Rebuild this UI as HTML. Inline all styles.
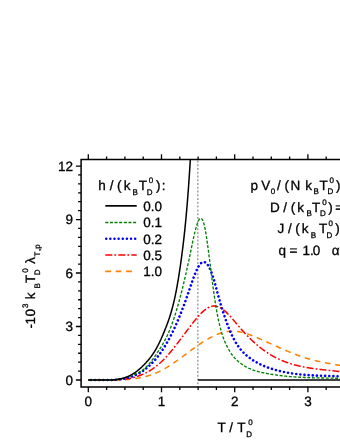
<!DOCTYPE html>
<html><head><meta charset="utf-8"><title>chart</title>
<style>html,body{margin:0;padding:0;background:#fff;}svg{display:block;will-change:transform;}text{font-family:"Liberation Sans", sans-serif;fill:#000;text-rendering:geometricPrecision;stroke:#000;stroke-width:0.3px;}</style></head><body>
<svg width="340" height="440" viewBox="0 0 340 440">
<rect width="340" height="440" fill="#fff"/>
<defs><clipPath id="plot"><rect x="81.10" y="159.50" width="300" height="227.50"/></clipPath></defs>
<line x1="197.85" y1="160.50" x2="197.85" y2="387.00" stroke="#808080" stroke-width="1.1" stroke-dasharray="2 1.76"/>
<g clip-path="url(#plot)" fill="none">
<path d="M198.00 380.10 L345 380.10" stroke="#000" stroke-width="1.5"/>
<path d="M88.30 380.00 L88.83 380.00 L89.36 380.00 L89.88 380.00 L90.41 380.00 L90.94 380.00 L91.47 380.00 L92.00 380.00 L92.52 380.00 L93.05 380.00 L93.58 380.00 L94.11 380.00 L94.64 380.00 L95.17 380.00 L95.69 380.00 L96.22 380.00 L96.75 380.00 L97.28 380.00 L97.81 380.00 L98.33 380.00 L98.86 380.00 L99.39 380.00 L99.92 380.00 L100.45 380.00 L100.97 380.00 L101.50 380.00 L102.03 380.00 L102.56 380.00 L103.09 380.00 L103.61 380.00 L104.14 380.00 L104.67 379.97 L105.20 379.98 L105.73 379.98 L106.26 379.99 L106.78 379.99 L107.31 380.00 L107.84 380.00 L108.37 380.00 L108.90 380.00 L109.42 380.00 L109.95 380.00 L110.48 380.00 L111.01 380.00 L111.54 380.00 L112.06 380.00 L112.59 380.00 L113.12 380.00 L113.65 380.00 L114.18 380.00 L114.70 380.00 L115.23 380.00 L115.76 380.00 L116.29 379.99 L116.82 379.99 L117.35 379.98 L117.87 379.97 L118.40 379.96 L118.93 379.94 L119.46 379.93 L119.99 379.91 L120.51 379.90 L121.04 379.88 L121.57 379.86 L122.10 379.84 L122.63 379.81 L123.15 379.79 L123.68 379.76 L124.21 379.73 L124.74 379.70 L125.27 379.67 L125.79 379.64 L126.32 379.60 L126.85 379.56 L127.38 379.52 L127.91 379.48 L128.44 379.44 L128.96 379.39 L129.49 379.34 L130.02 379.29 L130.55 379.24 L131.08 379.18 L131.60 379.13 L132.13 379.07 L132.66 379.00 L133.19 378.94 L133.72 378.87 L134.24 378.80 L134.77 378.73 L135.30 378.65 L135.83 378.57 L136.36 378.49 L136.88 378.40 L137.41 378.32 L137.94 378.23 L138.47 378.13 L139.00 378.04 L139.53 377.94 L140.05 377.83 L140.58 377.73 L141.11 377.62 L141.64 377.50 L142.17 377.39 L142.69 377.27 L143.22 377.15 L143.75 377.02 L144.28 376.89 L144.81 376.76 L145.33 376.62 L145.86 376.48 L146.39 376.33 L146.92 376.18 L147.45 376.03 L147.97 375.88 L148.50 375.72 L149.03 375.55 L149.56 375.38 L150.09 375.21 L150.62 375.03 L151.14 374.85 L151.67 374.67 L152.20 374.48 L152.73 374.29 L153.26 374.09 L153.78 373.89 L154.31 373.68 L154.84 373.47 L155.37 373.25 L155.90 373.03 L156.42 372.81 L156.95 372.58 L157.48 372.35 L158.01 372.11 L158.54 371.86 L159.06 371.62 L159.59 371.36 L160.12 371.10 L160.65 370.84 L161.18 370.57 L161.71 370.30 L162.23 370.02 L162.76 369.74 L163.29 369.45 L163.82 369.15 L164.35 368.86 L164.87 368.55 L165.40 368.25 L165.93 367.94 L166.46 367.62 L166.99 367.30 L167.51 366.98 L168.04 366.65 L168.57 366.32 L169.10 365.99 L169.63 365.65 L170.15 365.31 L170.68 364.96 L171.21 364.62 L171.74 364.27 L172.27 363.91 L172.80 363.56 L173.32 363.20 L173.85 362.84 L174.38 362.47 L174.91 362.10 L175.44 361.73 L175.96 361.36 L176.49 360.99 L177.02 360.61 L177.55 360.24 L178.08 359.86 L178.60 359.48 L179.13 359.09 L179.66 358.71 L180.19 358.32 L180.72 357.94 L181.24 357.55 L181.77 357.16 L182.30 356.77 L182.83 356.38 L183.36 355.99 L183.89 355.60 L184.41 355.21 L184.94 354.81 L185.47 354.42 L186.00 354.03 L186.53 353.63 L187.05 353.24 L187.58 352.85 L188.11 352.46 L188.64 352.06 L189.17 351.67 L189.69 351.28 L190.22 350.89 L190.75 350.50 L191.28 350.11 L191.81 349.72 L192.33 349.34 L192.86 348.95 L193.39 348.57 L193.92 348.19 L194.45 347.80 L194.98 347.42 L195.50 347.05 L196.03 346.67 L196.56 346.30 L197.09 345.93 L197.62 345.56 L198.14 345.19 L198.67 344.82 L199.20 344.46 L199.73 344.10 L200.26 343.75 L200.78 343.39 L201.31 343.04 L201.84 342.69 L202.37 342.35 L202.90 342.01 L203.42 341.67 L203.95 341.34 L204.48 341.00 L205.01 340.68 L205.54 340.35 L206.07 340.03 L206.59 339.72 L207.12 339.41 L207.65 339.10 L208.18 338.80 L208.71 338.50 L209.23 338.20 L209.76 337.91 L210.29 337.63 L210.82 337.35 L211.35 337.07 L211.87 336.80 L212.40 336.54 L212.93 336.28 L213.46 336.02 L213.99 335.77 L214.51 335.53 L215.04 335.29 L215.57 335.06 L216.10 334.83 L216.63 334.61 L217.16 334.40 L217.68 334.19 L218.21 333.98 L218.74 333.79 L219.27 333.59 L219.80 333.41 L220.32 333.23 L220.85 333.06 L221.38 332.90 L221.91 332.74 L222.44 332.59 L222.96 332.44 L223.49 332.31 L224.02 332.18 L224.55 332.05 L225.08 331.94 L225.61 331.83 L226.13 331.73 L226.66 331.64 L227.19 331.55 L227.72 331.48 L228.25 331.41 L228.77 331.35 L229.30 331.29 L229.83 331.25 L230.36 331.21 L230.89 331.18 L231.41 331.16 L231.94 331.15 L232.47 331.15 L233.00 331.16 L233.53 331.17 L234.05 331.19 L234.58 331.22 L235.11 331.26 L235.64 331.31 L236.17 331.36 L236.70 331.42 L237.22 331.49 L237.75 331.56 L238.28 331.64 L238.81 331.73 L239.34 331.82 L239.86 331.92 L240.39 332.03 L240.92 332.14 L241.45 332.26 L241.98 332.38 L242.50 332.51 L243.03 332.65 L243.56 332.79 L244.09 332.93 L244.62 333.09 L245.14 333.24 L245.67 333.40 L246.20 333.57 L246.73 333.74 L247.26 333.91 L247.79 334.09 L248.31 334.27 L248.84 334.45 L249.37 334.64 L249.90 334.83 L250.43 335.03 L250.95 335.23 L251.48 335.43 L252.01 335.63 L252.54 335.84 L253.07 336.05 L253.59 336.26 L254.12 336.48 L254.65 336.70 L255.18 336.91 L255.71 337.13 L256.23 337.36 L256.76 337.58 L257.29 337.81 L257.82 338.03 L258.35 338.26 L258.88 338.49 L259.40 338.72 L259.93 338.95 L260.46 339.18 L260.99 339.41 L261.52 339.64 L262.04 339.87 L262.57 340.11 L263.10 340.34 L263.63 340.58 L264.16 340.81 L264.68 341.05 L265.21 341.28 L265.74 341.52 L266.27 341.76 L266.80 342.00 L267.32 342.23 L267.85 342.47 L268.38 342.71 L268.91 342.95 L269.44 343.19 L269.97 343.43 L270.49 343.67 L271.02 343.91 L271.55 344.14 L272.08 344.38 L272.61 344.62 L273.13 344.86 L273.66 345.10 L274.19 345.34 L274.72 345.58 L275.25 345.82 L275.77 346.06 L276.30 346.29 L276.83 346.53 L277.36 346.77 L277.89 347.01 L278.41 347.24 L278.94 347.48 L279.47 347.72 L280.00 347.95 L280.53 348.18 L281.06 348.42 L281.58 348.65 L282.11 348.88 L282.64 349.12 L283.17 349.35 L283.70 349.58 L284.22 349.81 L284.75 350.04 L285.28 350.26 L285.81 350.49 L286.34 350.71 L286.86 350.94 L287.39 351.16 L287.92 351.39 L288.45 351.61 L288.98 351.83 L289.50 352.05 L290.03 352.26 L290.56 352.48 L291.09 352.69 L291.62 352.91 L292.15 353.12 L292.67 353.33 L293.20 353.54 L293.73 353.75 L294.26 353.96 L294.79 354.16 L295.31 354.36 L295.84 354.56 L296.37 354.76 L296.90 354.96 L297.43 355.16 L297.95 355.35 L298.48 355.55 L299.01 355.74 L299.54 355.93 L300.07 356.11 L300.59 356.30 L301.12 356.48 L301.65 356.66 L302.18 356.84 L302.71 357.02 L303.24 357.19 L303.76 357.36 L304.29 357.53 L304.82 357.70 L305.35 357.87 L305.88 358.03 L306.40 358.19 L306.93 358.35 L307.46 358.51 L307.99 358.67 L308.52 358.82 L309.04 358.97 L309.57 359.12 L310.10 359.27 L310.63 359.41 L311.16 359.56 L311.68 359.70 L312.21 359.84 L312.74 359.98 L313.27 360.11 L313.80 360.25 L314.33 360.38 L314.85 360.51 L315.38 360.64 L315.91 360.77 L316.44 360.90 L316.97 361.02 L317.49 361.15 L318.02 361.27 L318.55 361.39 L319.08 361.51 L319.61 361.63 L320.13 361.74 L320.66 361.86 L321.19 361.97 L321.72 362.08 L322.25 362.20 L322.77 362.31 L323.30 362.41 L323.83 362.52 L324.36 362.63 L324.89 362.73 L325.42 362.84 L325.94 362.94 L326.47 363.04 L327.00 363.14 L327.53 363.24 L328.06 363.34 L328.58 363.44 L329.11 363.53 L329.64 363.63 L330.17 363.72 L330.70 363.82 L331.22 363.91 L331.75 364.00 L332.28 364.09 L332.81 364.19 L333.34 364.28 L333.86 364.37 L334.39 364.45 L334.92 364.54 L335.45 364.63 L335.98 364.72 L336.51 364.80 L337.03 364.89 L337.56 364.97 L338.09 365.06 L338.62 365.14 L339.15 365.23 L339.67 365.31 L340.20 365.39 L340.73 365.48 L341.26 365.56 L341.79 365.64 L342.31 365.72 L342.84 365.80 L343.37 365.88 L343.90 365.97 L344.43 366.05 L344.95 366.13 L345.48 366.21 L346.01 366.29 L346.54 366.37 L347.07 366.45 L347.60 366.53 L348.12 366.61 L348.65 366.69 L349.18 366.77 L349.71 366.85 L350.24 366.94 L350.76 367.02 L351.29 367.10 L351.82 367.18" stroke="#ff8000" stroke-width="1.5" stroke-dasharray="5.7 4.7" stroke-dashoffset="5.01"/>
<path d="M88.30 380.00 L88.83 380.00 L89.36 380.00 L89.88 380.00 L90.41 380.00 L90.94 380.00 L91.47 380.00 L92.00 380.00 L92.52 380.00 L93.05 380.00 L93.58 380.00 L94.11 380.00 L94.64 380.00 L95.17 380.00 L95.69 380.00 L96.22 380.00 L96.75 380.00 L97.28 380.00 L97.81 380.00 L98.33 380.00 L98.86 380.00 L99.39 380.00 L99.92 380.00 L100.45 380.00 L100.97 380.00 L101.50 380.00 L102.03 380.00 L102.56 380.00 L103.09 380.00 L103.61 380.00 L104.14 380.00 L104.67 379.97 L105.20 379.98 L105.73 379.98 L106.26 379.98 L106.78 379.99 L107.31 379.99 L107.84 379.99 L108.37 379.99 L108.90 379.99 L109.42 379.99 L109.95 379.99 L110.48 379.99 L111.01 379.98 L111.54 379.98 L112.06 379.97 L112.59 379.96 L113.12 379.95 L113.65 379.94 L114.18 379.92 L114.70 379.91 L115.23 379.89 L115.76 379.87 L116.29 379.85 L116.82 379.82 L117.35 379.80 L117.87 379.77 L118.40 379.74 L118.93 379.71 L119.46 379.67 L119.99 379.63 L120.51 379.59 L121.04 379.55 L121.57 379.50 L122.10 379.45 L122.63 379.40 L123.15 379.34 L123.68 379.28 L124.21 379.22 L124.74 379.15 L125.27 379.09 L125.79 379.01 L126.32 378.94 L126.85 378.86 L127.38 378.77 L127.91 378.69 L128.44 378.60 L128.96 378.50 L129.49 378.40 L130.02 378.30 L130.55 378.19 L131.08 378.08 L131.60 377.96 L132.13 377.84 L132.66 377.72 L133.19 377.59 L133.72 377.45 L134.24 377.31 L134.77 377.17 L135.30 377.02 L135.83 376.86 L136.36 376.70 L136.88 376.54 L137.41 376.37 L137.94 376.20 L138.47 376.02 L139.00 375.83 L139.53 375.64 L140.05 375.44 L140.58 375.24 L141.11 375.03 L141.64 374.81 L142.17 374.59 L142.69 374.37 L143.22 374.13 L143.75 373.90 L144.28 373.65 L144.81 373.40 L145.33 373.14 L145.86 372.88 L146.39 372.60 L146.92 372.33 L147.45 372.04 L147.97 371.75 L148.50 371.45 L149.03 371.15 L149.56 370.83 L150.09 370.51 L150.62 370.19 L151.14 369.85 L151.67 369.51 L152.20 369.16 L152.73 368.81 L153.26 368.44 L153.78 368.07 L154.31 367.69 L154.84 367.30 L155.37 366.91 L155.90 366.50 L156.42 366.09 L156.95 365.67 L157.48 365.24 L158.01 364.80 L158.54 364.36 L159.06 363.91 L159.59 363.44 L160.12 362.97 L160.65 362.49 L161.18 362.00 L161.71 361.51 L162.23 361.00 L162.76 360.48 L163.29 359.96 L163.82 359.43 L164.35 358.88 L164.87 358.33 L165.40 357.78 L165.93 357.21 L166.46 356.63 L166.99 356.05 L167.51 355.46 L168.04 354.87 L168.57 354.27 L169.10 353.66 L169.63 353.04 L170.15 352.42 L170.68 351.79 L171.21 351.16 L171.74 350.52 L172.27 349.87 L172.80 349.22 L173.32 348.57 L173.85 347.91 L174.38 347.24 L174.91 346.58 L175.44 345.90 L175.96 345.23 L176.49 344.55 L177.02 343.87 L177.55 343.18 L178.08 342.49 L178.60 341.80 L179.13 341.11 L179.66 340.41 L180.19 339.71 L180.72 339.01 L181.24 338.31 L181.77 337.61 L182.30 336.90 L182.83 336.20 L183.36 335.49 L183.89 334.79 L184.41 334.08 L184.94 333.37 L185.47 332.66 L186.00 331.96 L186.53 331.25 L187.05 330.55 L187.58 329.84 L188.11 329.14 L188.64 328.44 L189.17 327.74 L189.69 327.04 L190.22 326.35 L190.75 325.65 L191.28 324.96 L191.81 324.27 L192.33 323.59 L192.86 322.91 L193.39 322.24 L193.92 321.57 L194.45 320.90 L194.98 320.25 L195.50 319.60 L196.03 318.95 L196.56 318.32 L197.09 317.70 L197.62 317.08 L198.14 316.48 L198.67 315.89 L199.20 315.30 L199.73 314.73 L200.26 314.18 L200.78 313.63 L201.31 313.10 L201.84 312.58 L202.37 312.08 L202.90 311.60 L203.42 311.13 L203.95 310.67 L204.48 310.24 L205.01 309.82 L205.54 309.42 L206.07 309.04 L206.59 308.68 L207.12 308.34 L207.65 308.02 L208.18 307.72 L208.71 307.45 L209.23 307.19 L209.76 306.96 L210.29 306.76 L210.82 306.57 L211.35 306.42 L211.87 306.29 L212.40 306.18 L212.93 306.10 L213.46 306.05 L213.99 306.03 L214.51 306.03 L215.04 306.07 L215.57 306.13 L216.10 306.21 L216.63 306.32 L217.16 306.46 L217.68 306.62 L218.21 306.81 L218.74 307.02 L219.27 307.25 L219.80 307.51 L220.32 307.78 L220.85 308.08 L221.38 308.40 L221.91 308.74 L222.44 309.10 L222.96 309.48 L223.49 309.88 L224.02 310.29 L224.55 310.72 L225.08 311.17 L225.61 311.64 L226.13 312.12 L226.66 312.62 L227.19 313.13 L227.72 313.66 L228.25 314.20 L228.77 314.75 L229.30 315.31 L229.83 315.88 L230.36 316.47 L230.89 317.06 L231.41 317.66 L231.94 318.26 L232.47 318.88 L233.00 319.49 L233.53 320.12 L234.05 320.74 L234.58 321.37 L235.11 322.00 L235.64 322.63 L236.17 323.26 L236.70 323.89 L237.22 324.52 L237.75 325.14 L238.28 325.77 L238.81 326.38 L239.34 327.00 L239.86 327.61 L240.39 328.21 L240.92 328.82 L241.45 329.41 L241.98 330.01 L242.50 330.60 L243.03 331.18 L243.56 331.76 L244.09 332.34 L244.62 332.91 L245.14 333.48 L245.67 334.04 L246.20 334.60 L246.73 335.15 L247.26 335.70 L247.79 336.25 L248.31 336.79 L248.84 337.32 L249.37 337.85 L249.90 338.38 L250.43 338.90 L250.95 339.41 L251.48 339.92 L252.01 340.43 L252.54 340.93 L253.07 341.42 L253.59 341.91 L254.12 342.40 L254.65 342.88 L255.18 343.35 L255.71 343.82 L256.23 344.28 L256.76 344.74 L257.29 345.19 L257.82 345.64 L258.35 346.08 L258.88 346.51 L259.40 346.94 L259.93 347.36 L260.46 347.78 L260.99 348.19 L261.52 348.60 L262.04 349.00 L262.57 349.40 L263.10 349.79 L263.63 350.17 L264.16 350.55 L264.68 350.93 L265.21 351.29 L265.74 351.66 L266.27 352.02 L266.80 352.37 L267.32 352.72 L267.85 353.06 L268.38 353.40 L268.91 353.73 L269.44 354.06 L269.97 354.39 L270.49 354.70 L271.02 355.02 L271.55 355.33 L272.08 355.63 L272.61 355.93 L273.13 356.23 L273.66 356.52 L274.19 356.80 L274.72 357.09 L275.25 357.36 L275.77 357.64 L276.30 357.91 L276.83 358.17 L277.36 358.43 L277.89 358.69 L278.41 358.94 L278.94 359.19 L279.47 359.43 L280.00 359.67 L280.53 359.90 L281.06 360.14 L281.58 360.36 L282.11 360.59 L282.64 360.81 L283.17 361.02 L283.70 361.24 L284.22 361.45 L284.75 361.65 L285.28 361.85 L285.81 362.05 L286.34 362.24 L286.86 362.44 L287.39 362.62 L287.92 362.81 L288.45 362.99 L288.98 363.17 L289.50 363.34 L290.03 363.51 L290.56 363.68 L291.09 363.85 L291.62 364.01 L292.15 364.17 L292.67 364.32 L293.20 364.48 L293.73 364.63 L294.26 364.77 L294.79 364.92 L295.31 365.06 L295.84 365.20 L296.37 365.34 L296.90 365.47 L297.43 365.60 L297.95 365.73 L298.48 365.86 L299.01 365.98 L299.54 366.10 L300.07 366.22 L300.59 366.34 L301.12 366.45 L301.65 366.56 L302.18 366.67 L302.71 366.78 L303.24 366.89 L303.76 366.99 L304.29 367.09 L304.82 367.19 L305.35 367.29 L305.88 367.39 L306.40 367.48 L306.93 367.57 L307.46 367.66 L307.99 367.75 L308.52 367.84 L309.04 367.92 L309.57 368.01 L310.10 368.09 L310.63 368.17 L311.16 368.25 L311.68 368.33 L312.21 368.41 L312.74 368.48 L313.27 368.56 L313.80 368.63 L314.33 368.70 L314.85 368.77 L315.38 368.84 L315.91 368.91 L316.44 368.98 L316.97 369.04 L317.49 369.11 L318.02 369.17 L318.55 369.24 L319.08 369.30 L319.61 369.36 L320.13 369.42 L320.66 369.49 L321.19 369.55 L321.72 369.61 L322.25 369.66 L322.77 369.72 L323.30 369.78 L323.83 369.84 L324.36 369.90 L324.89 369.96 L325.42 370.01 L325.94 370.07 L326.47 370.13 L327.00 370.18 L327.53 370.24 L328.06 370.30 L328.58 370.35 L329.11 370.41 L329.64 370.47 L330.17 370.52 L330.70 370.58 L331.22 370.64 L331.75 370.69 L332.28 370.75 L332.81 370.81 L333.34 370.87 L333.86 370.93 L334.39 370.99 L334.92 371.05 L335.45 371.11 L335.98 371.17 L336.51 371.23 L337.03 371.29 L337.56 371.36 L338.09 371.42 L338.62 371.48 L339.15 371.55 L339.67 371.62 L340.20 371.69 L340.73 371.75 L341.26 371.82 L341.79 371.89 L342.31 371.97 L342.84 372.04 L343.37 372.11 L343.90 372.19 L344.43 372.27 L344.95 372.35 L345.48 372.42 L346.01 372.51 L346.54 372.59 L347.07 372.67 L347.60 372.76 L348.12 372.85 L348.65 372.94 L349.18 373.03 L349.71 373.12 L350.24 373.21 L350.76 373.31 L351.29 373.41 L351.82 373.51" stroke="#ff0000" stroke-width="1.5" stroke-dasharray="7 2.1 1.8 2.1" stroke-dashoffset="3.09"/>
<path d="M88.30 380.00 L88.83 380.00 L89.36 380.00 L89.88 380.00 L90.41 380.00 L90.94 380.00 L91.47 380.00 L92.00 380.00 L92.52 380.00 L93.05 380.00 L93.58 380.00 L94.11 380.00 L94.64 380.00 L95.17 380.00 L95.69 380.00 L96.22 380.00 L96.75 380.00 L97.28 380.00 L97.81 380.00 L98.33 380.00 L98.86 380.00 L99.39 380.00 L99.92 380.00 L100.45 380.00 L100.97 380.00 L101.50 380.00 L102.03 380.00 L102.56 380.00 L103.09 380.00 L103.61 380.00 L104.14 380.00 L104.67 379.97 L105.20 379.98 L105.73 379.98 L106.26 379.99 L106.78 379.99 L107.31 379.99 L107.84 379.99 L108.37 379.99 L108.90 379.99 L109.42 379.98 L109.95 379.98 L110.48 379.97 L111.01 379.96 L111.54 379.94 L112.06 379.93 L112.59 379.91 L113.12 379.89 L113.65 379.87 L114.18 379.84 L114.70 379.82 L115.23 379.79 L115.76 379.75 L116.29 379.71 L116.82 379.67 L117.35 379.63 L117.87 379.58 L118.40 379.53 L118.93 379.47 L119.46 379.41 L119.99 379.35 L120.51 379.28 L121.04 379.21 L121.57 379.13 L122.10 379.05 L122.63 378.96 L123.15 378.87 L123.68 378.78 L124.21 378.68 L124.74 378.57 L125.27 378.46 L125.79 378.34 L126.32 378.22 L126.85 378.09 L127.38 377.96 L127.91 377.82 L128.44 377.67 L128.96 377.52 L129.49 377.36 L130.02 377.20 L130.55 377.03 L131.08 376.85 L131.60 376.66 L132.13 376.47 L132.66 376.28 L133.19 376.07 L133.72 375.86 L134.24 375.64 L134.77 375.41 L135.30 375.17 L135.83 374.93 L136.36 374.68 L136.88 374.42 L137.41 374.16 L137.94 373.88 L138.47 373.60 L139.00 373.31 L139.53 373.01 L140.05 372.70 L140.58 372.38 L141.11 372.05 L141.64 371.72 L142.17 371.37 L142.69 371.02 L143.22 370.66 L143.75 370.29 L144.28 369.90 L144.81 369.51 L145.33 369.11 L145.86 368.70 L146.39 368.27 L146.92 367.84 L147.45 367.40 L147.97 366.95 L148.50 366.48 L149.03 366.01 L149.56 365.52 L150.09 365.03 L150.62 364.52 L151.14 364.00 L151.67 363.47 L152.20 362.93 L152.73 362.38 L153.26 361.81 L153.78 361.24 L154.31 360.65 L154.84 360.05 L155.37 359.44 L155.90 358.81 L156.42 358.18 L156.95 357.53 L157.48 356.87 L158.01 356.19 L158.54 355.50 L159.06 354.80 L159.59 354.09 L160.12 353.36 L160.65 352.62 L161.18 351.87 L161.71 351.10 L162.23 350.32 L162.76 349.52 L163.29 348.72 L163.82 347.89 L164.35 347.06 L164.87 346.20 L165.40 345.34 L165.93 344.46 L166.46 343.56 L166.99 342.65 L167.51 341.73 L168.04 340.79 L168.57 339.83 L169.10 338.86 L169.63 337.88 L170.15 336.88 L170.68 335.86 L171.21 334.83 L171.74 333.78 L172.27 332.72 L172.80 331.64 L173.32 330.54 L173.85 329.43 L174.38 328.30 L174.91 327.15 L175.44 325.99 L175.96 324.81 L176.49 323.62 L177.02 322.41 L177.55 321.18 L178.08 319.94 L178.60 318.68 L179.13 317.40 L179.66 316.11 L180.19 314.81 L180.72 313.48 L181.24 312.15 L181.77 310.79 L182.30 309.43 L182.83 308.04 L183.36 306.64 L183.89 305.23 L184.41 303.80 L184.94 302.36 L185.47 300.90 L186.00 299.43 L186.53 297.94 L187.05 296.44 L187.58 294.92 L188.11 293.39 L188.64 291.84 L189.17 290.29 L189.69 288.74 L190.22 287.19 L190.75 285.64 L191.28 284.11 L191.81 282.59 L192.33 281.09 L192.86 279.62 L193.39 278.17 L193.92 276.76 L194.45 275.38 L194.98 274.04 L195.50 272.76 L196.03 271.52 L196.56 270.34 L197.09 269.22 L197.62 268.16 L198.14 267.17 L198.67 266.25 L199.20 265.42 L199.73 264.66 L200.26 263.99 L200.78 263.41 L201.31 262.93 L201.84 262.55 L202.37 262.26 L202.90 262.07 L203.42 261.98 L203.95 261.99 L204.48 262.09 L205.01 262.29 L205.54 262.59 L206.07 262.98 L206.59 263.47 L207.12 264.05 L207.65 264.73 L208.18 265.50 L208.71 266.37 L209.23 267.33 L209.76 268.39 L210.29 269.54 L210.82 270.79 L211.35 272.12 L211.87 273.56 L212.40 275.08 L212.93 276.70 L213.46 278.40 L213.99 280.19 L214.51 282.04 L215.04 283.93 L215.57 285.87 L216.10 287.82 L216.63 289.79 L217.16 291.75 L217.68 293.69 L218.21 295.60 L218.74 297.49 L219.27 299.35 L219.80 301.18 L220.32 302.99 L220.85 304.77 L221.38 306.52 L221.91 308.24 L222.44 309.94 L222.96 311.60 L223.49 313.24 L224.02 314.85 L224.55 316.43 L225.08 317.97 L225.61 319.49 L226.13 320.98 L226.66 322.44 L227.19 323.86 L227.72 325.26 L228.25 326.62 L228.77 327.96 L229.30 329.26 L229.83 330.53 L230.36 331.76 L230.89 332.97 L231.41 334.14 L231.94 335.28 L232.47 336.38 L233.00 337.45 L233.53 338.49 L234.05 339.49 L234.58 340.46 L235.11 341.40 L235.64 342.30 L236.17 343.17 L236.70 344.01 L237.22 344.82 L237.75 345.60 L238.28 346.36 L238.81 347.09 L239.34 347.79 L239.86 348.47 L240.39 349.13 L240.92 349.76 L241.45 350.37 L241.98 350.97 L242.50 351.54 L243.03 352.09 L243.56 352.63 L244.09 353.15 L244.62 353.66 L245.14 354.15 L245.67 354.62 L246.20 355.09 L246.73 355.54 L247.26 355.99 L247.79 356.42 L248.31 356.85 L248.84 357.26 L249.37 357.67 L249.90 358.07 L250.43 358.46 L250.95 358.84 L251.48 359.21 L252.01 359.57 L252.54 359.93 L253.07 360.28 L253.59 360.62 L254.12 360.95 L254.65 361.28 L255.18 361.60 L255.71 361.91 L256.23 362.22 L256.76 362.51 L257.29 362.80 L257.82 363.09 L258.35 363.37 L258.88 363.64 L259.40 363.91 L259.93 364.17 L260.46 364.42 L260.99 364.67 L261.52 364.92 L262.04 365.15 L262.57 365.39 L263.10 365.62 L263.63 365.84 L264.16 366.06 L264.68 366.27 L265.21 366.48 L265.74 366.69 L266.27 366.89 L266.80 367.09 L267.32 367.28 L267.85 367.47 L268.38 367.66 L268.91 367.85 L269.44 368.03 L269.97 368.21 L270.49 368.38 L271.02 368.55 L271.55 368.72 L272.08 368.89 L272.61 369.05 L273.13 369.21 L273.66 369.37 L274.19 369.53 L274.72 369.68 L275.25 369.83 L275.77 369.98 L276.30 370.13 L276.83 370.27 L277.36 370.41 L277.89 370.55 L278.41 370.68 L278.94 370.82 L279.47 370.95 L280.00 371.07 L280.53 371.20 L281.06 371.32 L281.58 371.45 L282.11 371.56 L282.64 371.68 L283.17 371.79 L283.70 371.91 L284.22 372.02 L284.75 372.12 L285.28 372.23 L285.81 372.33 L286.34 372.43 L286.86 372.53 L287.39 372.63 L287.92 372.73 L288.45 372.82 L288.98 372.91 L289.50 373.00 L290.03 373.09 L290.56 373.17 L291.09 373.26 L291.62 373.34 L292.15 373.42 L292.67 373.50 L293.20 373.57 L293.73 373.65 L294.26 373.72 L294.79 373.79 L295.31 373.86 L295.84 373.93 L296.37 374.00 L296.90 374.06 L297.43 374.12 L297.95 374.19 L298.48 374.25 L299.01 374.30 L299.54 374.36 L300.07 374.42 L300.59 374.47 L301.12 374.52 L301.65 374.58 L302.18 374.63 L302.71 374.68 L303.24 374.72 L303.76 374.77 L304.29 374.81 L304.82 374.86 L305.35 374.90 L305.88 374.94 L306.40 374.98 L306.93 375.02 L307.46 375.06 L307.99 375.10 L308.52 375.13 L309.04 375.17 L309.57 375.20 L310.10 375.24 L310.63 375.27 L311.16 375.30 L311.68 375.33 L312.21 375.36 L312.74 375.39 L313.27 375.42 L313.80 375.44 L314.33 375.47 L314.85 375.49 L315.38 375.52 L315.91 375.54 L316.44 375.57 L316.97 375.59 L317.49 375.61 L318.02 375.63 L318.55 375.66 L319.08 375.68 L319.61 375.70 L320.13 375.72 L320.66 375.73 L321.19 375.75 L321.72 375.77 L322.25 375.79 L322.77 375.81 L323.30 375.82 L323.83 375.84 L324.36 375.86 L324.89 375.87 L325.42 375.89 L325.94 375.91 L326.47 375.92 L327.00 375.94 L327.53 375.95 L328.06 375.97 L328.58 375.98 L329.11 376.00 L329.64 376.01 L330.17 376.03 L330.70 376.04 L331.22 376.06 L331.75 376.07 L332.28 376.09 L332.81 376.10 L333.34 376.12 L333.86 376.14 L334.39 376.15 L334.92 376.17 L335.45 376.18 L335.98 376.20 L336.51 376.22 L337.03 376.24 L337.56 376.25 L338.09 376.27 L338.62 376.29 L339.15 376.31 L339.67 376.33 L340.20 376.35 L340.73 376.37 L341.26 376.39 L341.79 376.41 L342.31 376.43 L342.84 376.45 L343.37 376.48 L343.90 376.50 L344.43 376.52 L344.95 376.55 L345.48 376.58 L346.01 376.60 L346.54 376.63 L347.07 376.66 L347.60 376.69 L348.12 376.72 L348.65 376.75 L349.18 376.78 L349.71 376.81 L350.24 376.84 L350.76 376.88 L351.29 376.91 L351.82 376.95" stroke="#0000ff" stroke-width="2.6" stroke-dasharray="0.01 4.13" stroke-linecap="round" stroke-dashoffset="1.45"/>
<path d="M88.30 380.00 L88.83 380.00 L89.36 380.00 L89.88 380.00 L90.41 380.00 L90.94 380.00 L91.47 380.00 L92.00 380.00 L92.52 380.00 L93.05 380.00 L93.58 380.00 L94.11 380.00 L94.64 380.00 L95.17 380.00 L95.69 380.00 L96.22 380.00 L96.75 380.00 L97.28 380.00 L97.81 380.00 L98.33 380.00 L98.86 380.00 L99.39 380.00 L99.92 380.00 L100.45 380.00 L100.97 380.00 L101.50 380.00 L102.03 380.00 L102.56 380.00 L103.09 380.00 L103.61 380.00 L104.14 380.00 L104.67 380.00 L105.20 380.00 L105.73 380.00 L106.26 380.00 L106.78 380.00 L107.31 380.00 L107.84 380.00 L108.37 380.00 L108.90 380.00 L109.42 380.00 L109.95 379.99 L110.48 379.97 L111.01 379.95 L111.54 379.93 L112.06 379.90 L112.59 379.87 L113.12 379.84 L113.65 379.80 L114.18 379.75 L114.70 379.70 L115.23 379.65 L115.76 379.59 L116.29 379.53 L116.82 379.46 L117.35 379.39 L117.87 379.31 L118.40 379.22 L118.93 379.13 L119.46 379.03 L119.99 378.92 L120.51 378.81 L121.04 378.70 L121.57 378.58 L122.10 378.45 L122.63 378.32 L123.15 378.18 L123.68 378.04 L124.21 377.89 L124.74 377.73 L125.27 377.58 L125.79 377.42 L126.32 377.25 L126.85 377.08 L127.38 376.91 L127.91 376.73 L128.44 376.55 L128.96 376.37 L129.49 376.18 L130.02 375.99 L130.55 375.79 L131.08 375.60 L131.60 375.40 L132.13 375.20 L132.66 374.99 L133.19 374.79 L133.72 374.58 L134.24 374.37 L134.77 374.16 L135.30 373.94 L135.83 373.72 L136.36 373.49 L136.88 373.26 L137.41 373.02 L137.94 372.77 L138.47 372.51 L139.00 372.24 L139.53 371.96 L140.05 371.66 L140.58 371.36 L141.11 371.03 L141.64 370.70 L142.17 370.34 L142.69 369.97 L143.22 369.58 L143.75 369.17 L144.28 368.75 L144.81 368.30 L145.33 367.82 L145.86 367.33 L146.39 366.82 L146.92 366.28 L147.45 365.73 L147.97 365.16 L148.50 364.57 L149.03 363.97 L149.56 363.35 L150.09 362.71 L150.62 362.05 L151.14 361.39 L151.67 360.70 L152.20 360.01 L152.73 359.30 L153.26 358.58 L153.78 357.85 L154.31 357.11 L154.84 356.36 L155.37 355.60 L155.90 354.83 L156.42 354.05 L156.95 353.26 L157.48 352.47 L158.01 351.67 L158.54 350.87 L159.06 350.06 L159.59 349.25 L160.12 348.42 L160.65 347.59 L161.18 346.75 L161.71 345.90 L162.23 345.03 L162.76 344.14 L163.29 343.24 L163.82 342.31 L164.35 341.36 L164.87 340.39 L165.40 339.38 L165.93 338.35 L166.46 337.29 L166.99 336.20 L167.51 335.07 L168.04 333.90 L168.57 332.70 L169.10 331.45 L169.63 330.18 L170.15 328.86 L170.68 327.51 L171.21 326.12 L171.74 324.69 L172.27 323.23 L172.80 321.73 L173.32 320.20 L173.85 318.63 L174.38 317.02 L174.91 315.39 L175.44 313.71 L175.96 312.01 L176.49 310.26 L177.02 308.49 L177.55 306.68 L178.08 304.84 L178.60 302.96 L179.13 301.06 L179.66 299.12 L180.19 297.14 L180.72 295.14 L181.24 293.10 L181.77 291.04 L182.30 288.94 L182.83 286.80 L183.36 284.64 L183.89 282.45 L184.41 280.22 L184.94 277.97 L185.47 275.68 L186.00 273.36 L186.53 271.02 L187.05 268.64 L187.58 266.23 L188.11 263.80 L188.64 261.33 L189.17 258.83 L189.69 256.31 L190.22 253.75 L190.75 251.18 L191.28 248.60 L191.81 246.03 L192.33 243.49 L192.86 240.98 L193.39 238.53 L193.92 236.15 L194.45 233.85 L194.98 231.65 L195.50 229.57 L196.03 227.61 L196.56 225.80 L197.09 224.14 L197.62 222.66 L198.14 221.37 L198.67 220.28 L199.20 219.41 L199.73 218.77 L200.26 218.38 L200.78 218.26 L201.31 218.41 L201.84 218.85 L202.37 219.60 L202.90 220.67 L203.42 222.08 L203.95 223.85 L204.48 225.98 L205.01 228.47 L205.54 231.30 L206.07 234.43 L206.59 237.81 L207.12 241.42 L207.65 245.20 L208.18 249.12 L208.71 253.15 L209.23 257.25 L209.76 261.40 L210.29 265.56 L210.82 269.73 L211.35 273.88 L211.87 277.99 L212.40 282.05 L212.93 286.04 L213.46 289.95 L213.99 293.75 L214.51 297.43 L215.04 300.96 L215.57 304.34 L216.10 307.56 L216.63 310.61 L217.16 313.50 L217.68 316.24 L218.21 318.84 L218.74 321.30 L219.27 323.63 L219.80 325.83 L220.32 327.91 L220.85 329.87 L221.38 331.73 L221.91 333.48 L222.44 335.13 L222.96 336.70 L223.49 338.18 L224.02 339.58 L224.55 340.91 L225.08 342.18 L225.61 343.38 L226.13 344.53 L226.66 345.63 L227.19 346.69 L227.72 347.71 L228.25 348.69 L228.77 349.63 L229.30 350.53 L229.83 351.41 L230.36 352.24 L230.89 353.04 L231.41 353.82 L231.94 354.56 L232.47 355.27 L233.00 355.95 L233.53 356.60 L234.05 357.23 L234.58 357.84 L235.11 358.42 L235.64 358.98 L236.17 359.51 L236.70 360.03 L237.22 360.52 L237.75 361.00 L238.28 361.46 L238.81 361.91 L239.34 362.34 L239.86 362.76 L240.39 363.16 L240.92 363.56 L241.45 363.94 L241.98 364.31 L242.50 364.67 L243.03 365.02 L243.56 365.36 L244.09 365.70 L244.62 366.02 L245.14 366.33 L245.67 366.63 L246.20 366.93 L246.73 367.21 L247.26 367.49 L247.79 367.75 L248.31 368.01 L248.84 368.26 L249.37 368.51 L249.90 368.74 L250.43 368.97 L250.95 369.19 L251.48 369.41 L252.01 369.61 L252.54 369.81 L253.07 370.01 L253.59 370.19 L254.12 370.38 L254.65 370.55 L255.18 370.72 L255.71 370.89 L256.23 371.05 L256.76 371.20 L257.29 371.35 L257.82 371.50 L258.35 371.64 L258.88 371.78 L259.40 371.91 L259.93 372.04 L260.46 372.17 L260.99 372.29 L261.52 372.41 L262.04 372.53 L262.57 372.64 L263.10 372.75 L263.63 372.86 L264.16 372.97 L264.68 373.07 L265.21 373.18 L265.74 373.28 L266.27 373.38 L266.80 373.48 L267.32 373.58 L267.85 373.68 L268.38 373.77 L268.91 373.86 L269.44 373.96 L269.97 374.05 L270.49 374.14 L271.02 374.22 L271.55 374.31 L272.08 374.40 L272.61 374.48 L273.13 374.56 L273.66 374.64 L274.19 374.72 L274.72 374.80 L275.25 374.88 L275.77 374.95 L276.30 375.03 L276.83 375.10 L277.36 375.17 L277.89 375.24 L278.41 375.31 L278.94 375.38 L279.47 375.45 L280.00 375.52 L280.53 375.58 L281.06 375.64 L281.58 375.71 L282.11 375.77 L282.64 375.83 L283.17 375.89 L283.70 375.95 L284.22 376.00 L284.75 376.06 L285.28 376.11 L285.81 376.17 L286.34 376.22 L286.86 376.27 L287.39 376.32 L287.92 376.37 L288.45 376.42 L288.98 376.47 L289.50 376.51 L290.03 376.56 L290.56 376.61 L291.09 376.65 L291.62 376.69 L292.15 376.73 L292.67 376.78 L293.20 376.82 L293.73 376.85 L294.26 376.89 L294.79 376.93 L295.31 376.97 L295.84 377.00 L296.37 377.04 L296.90 377.07 L297.43 377.11 L297.95 377.14 L298.48 377.17 L299.01 377.20 L299.54 377.23 L300.07 377.26 L300.59 377.29 L301.12 377.32 L301.65 377.35 L302.18 377.37 L302.71 377.40 L303.24 377.43 L303.76 377.45 L304.29 377.48 L304.82 377.50 L305.35 377.52 L305.88 377.54 L306.40 377.57 L306.93 377.59 L307.46 377.61 L307.99 377.63 L308.52 377.65 L309.04 377.67 L309.57 377.69 L310.10 377.70 L310.63 377.72 L311.16 377.74 L311.68 377.76 L312.21 377.77 L312.74 377.79 L313.27 377.80 L313.80 377.82 L314.33 377.83 L314.85 377.85 L315.38 377.86 L315.91 377.87 L316.44 377.89 L316.97 377.90 L317.49 377.91 L318.02 377.92 L318.55 377.94 L319.08 377.95 L319.61 377.96 L320.13 377.97 L320.66 377.98 L321.19 377.99 L321.72 378.00 L322.25 378.01 L322.77 378.02 L323.30 378.03 L323.83 378.04 L324.36 378.05 L324.89 378.06 L325.42 378.06 L325.94 378.07 L326.47 378.08 L327.00 378.09 L327.53 378.10 L328.06 378.11 L328.58 378.11 L329.11 378.12 L329.64 378.13 L330.17 378.14 L330.70 378.15 L331.22 378.15 L331.75 378.16 L332.28 378.17 L332.81 378.18 L333.34 378.19 L333.86 378.19 L334.39 378.20 L334.92 378.21 L335.45 378.22 L335.98 378.23 L336.51 378.23 L337.03 378.24 L337.56 378.25 L338.09 378.26 L338.62 378.27 L339.15 378.28 L339.67 378.29 L340.20 378.30 L340.73 378.30 L341.26 378.31 L341.79 378.32 L342.31 378.33 L342.84 378.34 L343.37 378.36 L343.90 378.37 L344.43 378.38 L344.95 378.39 L345.48 378.40 L346.01 378.41 L346.54 378.43 L347.07 378.44 L347.60 378.45 L348.12 378.46 L348.65 378.48 L349.18 378.49 L349.71 378.51 L350.24 378.52 L350.76 378.54 L351.29 378.55 L351.82 378.57" stroke="#008000" stroke-width="1.35" stroke-dasharray="3.0 1.63"/>
<path d="M88.30 380.00 L88.51 380.00 L88.71 380.00 L88.92 380.00 L89.13 380.00 L89.34 380.00 L89.54 380.00 L89.75 380.00 L89.96 380.00 L90.16 380.00 L90.37 380.00 L90.58 380.00 L90.79 380.00 L90.99 380.00 L91.20 380.00 L91.41 380.00 L91.61 380.00 L91.82 380.00 L92.03 380.00 L92.24 380.00 L92.44 380.00 L92.65 380.00 L92.86 380.00 L93.06 380.00 L93.27 380.00 L93.48 380.00 L93.69 380.00 L93.89 380.00 L94.10 380.00 L94.31 380.00 L94.51 380.00 L94.72 380.00 L94.93 380.00 L95.14 380.00 L95.34 380.00 L95.55 380.00 L95.76 380.00 L95.96 380.00 L96.17 380.00 L96.38 380.00 L96.59 380.00 L96.79 380.00 L97.00 380.00 L97.21 380.00 L97.41 380.00 L97.62 380.00 L97.83 380.00 L98.04 380.00 L98.24 380.00 L98.45 380.00 L98.66 380.00 L98.86 380.00 L99.07 380.00 L99.28 380.00 L99.49 380.00 L99.69 380.00 L99.90 380.00 L100.11 380.00 L100.31 380.00 L100.52 380.00 L100.73 380.00 L100.93 380.00 L101.14 380.00 L101.35 380.00 L101.56 380.00 L101.76 380.00 L101.97 380.00 L102.18 380.00 L102.38 380.00 L102.59 380.00 L102.80 380.00 L103.01 380.00 L103.21 380.00 L103.42 380.00 L103.63 380.00 L103.83 380.00 L104.04 380.00 L104.25 380.00 L104.46 380.00 L104.66 380.00 L104.87 380.00 L105.08 380.00 L105.28 380.00 L105.49 380.00 L105.70 380.00 L105.91 380.00 L106.11 380.00 L106.32 380.00 L106.53 380.00 L106.73 380.00 L106.94 380.00 L107.15 380.00 L107.36 380.00 L107.56 380.00 L107.77 380.00 L107.98 380.00 L108.18 380.00 L108.39 380.00 L108.60 380.00 L108.81 380.00 L109.01 380.00 L109.22 380.00 L109.43 380.00 L109.63 380.00 L109.84 380.00 L110.05 379.99 L110.26 379.99 L110.46 379.98 L110.67 379.97 L110.88 379.97 L111.08 379.96 L111.29 379.95 L111.50 379.94 L111.71 379.93 L111.91 379.92 L112.12 379.91 L112.33 379.90 L112.53 379.89 L112.74 379.87 L112.95 379.86 L113.16 379.85 L113.36 379.83 L113.57 379.82 L113.78 379.80 L113.98 379.78 L114.19 379.77 L114.40 379.75 L114.61 379.73 L114.81 379.71 L115.02 379.69 L115.23 379.67 L115.43 379.65 L115.64 379.62 L115.85 379.60 L116.06 379.58 L116.26 379.55 L116.47 379.53 L116.68 379.50 L116.88 379.47 L117.09 379.44 L117.30 379.41 L117.51 379.38 L117.71 379.35 L117.92 379.32 L118.13 379.29 L118.33 379.26 L118.54 379.22 L118.75 379.19 L118.96 379.15 L119.16 379.11 L119.37 379.07 L119.58 379.03 L119.78 378.99 L119.99 378.95 L120.20 378.91 L120.41 378.87 L120.61 378.82 L120.82 378.78 L121.03 378.73 L121.23 378.68 L121.44 378.63 L121.65 378.58 L121.86 378.53 L122.06 378.48 L122.27 378.43 L122.48 378.37 L122.68 378.32 L122.89 378.26 L123.10 378.20 L123.31 378.15 L123.51 378.09 L123.72 378.02 L123.93 377.96 L124.13 377.90 L124.34 377.83 L124.55 377.77 L124.76 377.70 L124.96 377.63 L125.17 377.56 L125.38 377.49 L125.58 377.42 L125.79 377.34 L126.00 377.27 L126.20 377.19 L126.41 377.11 L126.62 377.03 L126.83 376.95 L127.03 376.87 L127.24 376.79 L127.45 376.70 L127.65 376.62 L127.86 376.53 L128.07 376.44 L128.28 376.35 L128.48 376.26 L128.69 376.16 L128.90 376.07 L129.10 375.97 L129.31 375.87 L129.52 375.77 L129.73 375.67 L129.93 375.57 L130.14 375.47 L130.35 375.36 L130.55 375.25 L130.76 375.15 L130.97 375.03 L131.18 374.92 L131.38 374.81 L131.59 374.69 L131.80 374.58 L132.00 374.46 L132.21 374.34 L132.42 374.22 L132.63 374.09 L132.83 373.97 L133.04 373.84 L133.25 373.71 L133.45 373.58 L133.66 373.45 L133.87 373.32 L134.08 373.18 L134.28 373.05 L134.49 372.91 L134.70 372.77 L134.90 372.62 L135.11 372.48 L135.32 372.33 L135.53 372.19 L135.73 372.04 L135.94 371.89 L136.15 371.74 L136.35 371.58 L136.56 371.43 L136.77 371.27 L136.98 371.11 L137.18 370.95 L137.39 370.79 L137.60 370.62 L137.80 370.46 L138.01 370.29 L138.22 370.12 L138.43 369.95 L138.63 369.78 L138.84 369.60 L139.05 369.43 L139.25 369.25 L139.46 369.07 L139.67 368.89 L139.88 368.71 L140.08 368.53 L140.29 368.34 L140.50 368.16 L140.70 367.97 L140.91 367.78 L141.12 367.59 L141.33 367.40 L141.53 367.20 L141.74 367.01 L141.95 366.81 L142.15 366.61 L142.36 366.41 L142.57 366.21 L142.78 366.00 L142.98 365.80 L143.19 365.59 L143.40 365.38 L143.60 365.17 L143.81 364.96 L144.02 364.75 L144.23 364.53 L144.43 364.32 L144.64 364.10 L144.85 363.88 L145.05 363.66 L145.26 363.44 L145.47 363.22 L145.68 362.99 L145.88 362.76 L146.09 362.54 L146.30 362.31 L146.50 362.08 L146.71 361.84 L146.92 361.61 L147.13 361.38 L147.33 361.14 L147.54 360.90 L147.75 360.66 L147.95 360.42 L148.16 360.18 L148.37 359.93 L148.58 359.68 L148.78 359.44 L148.99 359.19 L149.20 358.93 L149.40 358.68 L149.61 358.42 L149.82 358.16 L150.03 357.90 L150.23 357.64 L150.44 357.37 L150.65 357.10 L150.85 356.83 L151.06 356.55 L151.27 356.28 L151.47 356.00 L151.68 355.71 L151.89 355.43 L152.10 355.14 L152.30 354.85 L152.51 354.55 L152.72 354.25 L152.92 353.95 L153.13 353.65 L153.34 353.34 L153.55 353.03 L153.75 352.71 L153.96 352.39 L154.17 352.07 L154.37 351.74 L154.58 351.41 L154.79 351.08 L155.00 350.74 L155.20 350.40 L155.41 350.05 L155.62 349.70 L155.82 349.35 L156.03 348.99 L156.24 348.63 L156.45 348.26 L156.65 347.89 L156.86 347.51 L157.07 347.13 L157.27 346.75 L157.48 346.36 L157.69 345.96 L157.90 345.57 L158.10 345.16 L158.31 344.76 L158.52 344.35 L158.72 343.93 L158.93 343.51 L159.14 343.09 L159.35 342.67 L159.55 342.24 L159.76 341.80 L159.97 341.36 L160.17 340.92 L160.38 340.48 L160.59 340.03 L160.80 339.58 L161.00 339.12 L161.21 338.66 L161.42 338.20 L161.62 337.73 L161.83 337.26 L162.04 336.79 L162.25 336.31 L162.45 335.83 L162.66 335.35 L162.87 334.87 L163.07 334.38 L163.28 333.89 L163.49 333.39 L163.70 332.89 L163.90 332.39 L164.11 331.89 L164.32 331.38 L164.52 330.88 L164.73 330.36 L164.94 329.85 L165.15 329.33 L165.35 328.81 L165.56 328.29 L165.77 327.77 L165.97 327.24 L166.18 326.71 L166.39 326.17 L166.60 325.64 L166.80 325.09 L167.01 324.55 L167.22 323.99 L167.42 323.44 L167.63 322.87 L167.84 322.31 L168.05 321.73 L168.25 321.15 L168.46 320.56 L168.67 319.97 L168.87 319.37 L169.08 318.76 L169.29 318.14 L169.50 317.51 L169.70 316.88 L169.91 316.24 L170.12 315.58 L170.32 314.92 L170.53 314.25 L170.74 313.57 L170.95 312.88 L171.15 312.18 L171.36 311.47 L171.57 310.74 L171.77 310.01 L171.98 309.26 L172.19 308.50 L172.40 307.73 L172.60 306.94 L172.81 306.15 L173.02 305.33 L173.22 304.51 L173.43 303.67 L173.64 302.81 L173.85 301.94 L174.05 301.06 L174.26 300.16 L174.47 299.24 L174.67 298.30 L174.88 297.35 L175.09 296.38 L175.30 295.40 L175.50 294.40 L175.71 293.38 L175.92 292.34 L176.12 291.29 L176.33 290.21 L176.54 289.12 L176.74 288.02 L176.95 286.89 L177.16 285.75 L177.37 284.59 L177.57 283.41 L177.78 282.21 L177.99 281.00 L178.19 279.77 L178.40 278.52 L178.61 277.25 L178.82 275.96 L179.02 274.65 L179.23 273.33 L179.44 271.98 L179.64 270.62 L179.85 269.24 L180.06 267.84 L180.27 266.42 L180.47 264.98 L180.68 263.52 L180.89 262.04 L181.09 260.54 L181.30 259.03 L181.51 257.49 L181.72 255.94 L181.92 254.36 L182.13 252.76 L182.34 251.15 L182.54 249.51 L182.75 247.85 L182.96 246.16 L183.17 244.44 L183.37 242.70 L183.58 240.93 L183.79 239.13 L183.99 237.30 L184.20 235.44 L184.41 233.54 L184.62 231.60 L184.82 229.63 L185.03 227.63 L185.24 225.58 L185.44 223.50 L185.65 221.37 L185.86 219.20 L186.07 216.98 L186.27 214.72 L186.48 212.42 L186.69 210.06 L186.89 207.66 L187.10 205.20 L187.31 202.70 L187.52 200.14 L187.72 197.53 L187.93 194.86 L188.14 192.14 L188.34 189.35 L188.55 186.51 L188.76 183.61 L188.97 180.64 L189.17 177.62 L189.38 174.52 L189.59 171.37 L189.79 168.14 L190.00 164.85 L190.21 161.49 L190.42 158.05 L190.62 154.55 L190.83 150.97 L191.04 147.32 L191.24 143.59 L191.45 139.79 L191.66 135.90" stroke="#000" stroke-width="1.5"/>
</g>
<g stroke="#000" stroke-width="1.5" fill="none">
<path d="M345 159.50 L81.10 159.50 L81.10 387.00 L345 387.00" stroke-linejoin="miter"/>
</g>
<path d="M88.30 387.00 v5.20 M88.30 159.50 v-5.20 M106.60 387.00 v3.00 M106.60 159.50 v-3.00 M124.90 387.00 v3.00 M124.90 159.50 v-3.00 M143.20 387.00 v3.00 M143.20 159.50 v-3.00 M161.50 387.00 v5.20 M161.50 159.50 v-5.20 M179.80 387.00 v3.00 M179.80 159.50 v-3.00 M198.10 387.00 v3.00 M198.10 159.50 v-3.00 M216.40 387.00 v3.00 M216.40 159.50 v-3.00 M234.70 387.00 v5.20 M234.70 159.50 v-5.20 M253.00 387.00 v3.00 M253.00 159.50 v-3.00 M271.30 387.00 v3.00 M271.30 159.50 v-3.00 M289.60 387.00 v3.00 M289.60 159.50 v-3.00 M307.90 387.00 v5.20 M307.90 159.50 v-5.20 M326.20 387.00 v3.00 M326.20 159.50 v-3.00 M344.50 387.00 v3.00 M344.50 159.50 v-3.00 M81.10 380.00 h-5.20 M81.10 371.08 h-3.00 M81.10 362.17 h-3.00 M81.10 353.25 h-3.00 M81.10 344.34 h-3.00 M81.10 335.43 h-3.00 M81.10 326.51 h-5.20 M81.10 317.60 h-3.00 M81.10 308.68 h-3.00 M81.10 299.76 h-3.00 M81.10 290.85 h-3.00 M81.10 281.94 h-3.00 M81.10 273.02 h-5.20 M81.10 264.11 h-3.00 M81.10 255.19 h-3.00 M81.10 246.28 h-3.00 M81.10 237.36 h-3.00 M81.10 228.45 h-3.00 M81.10 219.53 h-5.20 M81.10 210.62 h-3.00 M81.10 201.70 h-3.00 M81.10 192.79 h-3.00 M81.10 183.87 h-3.00 M81.10 174.96 h-3.00 M81.10 166.04 h-5.20" stroke="#000" stroke-width="1.3" fill="none"/>
<text x="88.30" y="406.0" font-size="13.5" text-anchor="middle">0</text>
<text x="161.50" y="406.0" font-size="13.5" text-anchor="middle">1</text>
<text x="234.70" y="406.0" font-size="13.5" text-anchor="middle">2</text>
<text x="307.90" y="406.0" font-size="13.5" text-anchor="middle">3</text>
<text x="73" y="384.80" font-size="13.5" text-anchor="end">0</text>
<text x="73" y="331.31" font-size="13.5" text-anchor="end">3</text>
<text x="73" y="277.82" font-size="13.5" text-anchor="end">6</text>
<text x="73" y="224.33" font-size="13.5" text-anchor="end">9</text>
<text x="73" y="170.84" font-size="13.5" text-anchor="end">12</text>
<path d="M105.30 205.85 H136.7" fill="none" stroke="#000" stroke-width="1.7"/>
<text x="143.2" y="210.75" font-size="13.5">0.0</text>
<path d="M105.30 222.40 H136.7" fill="none" stroke="#008000" stroke-width="1.5" stroke-dasharray="3.0 1.63"/>
<text x="143.2" y="227.30" font-size="13.5">0.1</text>
<path d="M106.20 238.70 H136.7" fill="none" stroke="#0000ff" stroke-width="2.5" stroke-dasharray="0.01 4.13" stroke-linecap="round"/>
<text x="143.2" y="243.60" font-size="13.5">0.2</text>
<path d="M105.30 255.00 H136.7" fill="none" stroke="#ff0000" stroke-width="1.6" stroke-dasharray="7 2.1 1.8 2.1"/>
<text x="143.2" y="259.90" font-size="13.5">0.5</text>
<path d="M105.30 271.35 H136.0" fill="none" stroke="#ff8000" stroke-width="1.6" stroke-dasharray="5.7 4.7"/>
<text x="143.2" y="276.25" font-size="13.5">1.0</text>
<text x="98.27" y="190.40" font-size="13.5">h</text>
<text x="109.67" y="190.40" font-size="13.5">/</text>
<text x="117.07" y="190.40" font-size="13.5">(</text>
<text x="123.81" y="190.40" font-size="13.5">k</text>
<text x="138.83" y="190.40" font-size="13.5">T</text>
<text x="156.03" y="190.40" font-size="13.5">)</text>
<text x="161.82" y="190.40" font-size="13.5">:</text>
<text x="132.46" y="194.70" font-size="8.0">B</text>
<text x="146.72" y="194.70" font-size="8.0">D</text>
<text x="148.83" y="183.40" font-size="8.0">0</text>
<text x="250.59" y="189.90" font-size="13.5">p</text>
<text x="261.30" y="189.90" font-size="13.5">V</text>
<text x="277.02" y="189.90" font-size="13.5">/</text>
<text x="284.57" y="189.90" font-size="13.5">(</text>
<text x="290.62" y="189.90" font-size="13.5">N</text>
<text x="305.16" y="189.90" font-size="13.5">k</text>
<text x="319.58" y="189.90" font-size="13.5">T</text>
<text x="335.93" y="189.90" font-size="13.5">)</text>
<text x="270.68" y="194.20" font-size="8.0">0</text>
<text x="313.46" y="194.20" font-size="8.0">B</text>
<text x="327.57" y="194.20" font-size="8.0">D</text>
<text x="329.38" y="182.90" font-size="8.0">0</text>
<text x="269.89" y="211.60" font-size="13.5">D</text>
<text x="283.22" y="211.60" font-size="13.5">/</text>
<text x="290.77" y="211.60" font-size="13.5">(</text>
<text x="297.16" y="211.60" font-size="13.5">k</text>
<text x="311.88" y="211.60" font-size="13.5">T</text>
<text x="328.23" y="211.60" font-size="13.5">)</text>
<text x="335.24" y="211.60" font-size="13.5">=</text>
<text x="306.41" y="215.90" font-size="8.0">B</text>
<text x="320.07" y="215.90" font-size="8.0">D</text>
<text x="322.28" y="204.60" font-size="8.0">0</text>
<text x="277.62" y="233.40" font-size="13.5">J</text>
<text x="288.02" y="233.40" font-size="13.5">/</text>
<text x="295.17" y="233.40" font-size="13.5">(</text>
<text x="301.66" y="233.40" font-size="13.5">k</text>
<text x="318.98" y="233.40" font-size="13.5">T</text>
<text x="335.23" y="233.40" font-size="13.5">)</text>
<text x="310.71" y="237.70" font-size="8.0">B</text>
<text x="326.57" y="237.70" font-size="8.0">D</text>
<text x="328.58" y="226.40" font-size="8.0">0</text>
<text x="278.49" y="255.20" font-size="13.5">q</text>
<text x="289.56" y="255.20" font-size="13.5">=</text>
<text x="302.57" y="255.20" font-size="13.5">1</text>
<text x="310.12" y="255.20" font-size="13.5">.</text>
<text x="312.85" y="255.20" font-size="13.5">0</text>
<text x="331.63" y="255.20" font-size="13.5">α</text>
<text x="217.48" y="432.00" font-size="13.5">T</text>
<text x="229.22" y="432.00" font-size="13.5">/</text>
<text x="237.28" y="432.00" font-size="13.5">T</text>
<text x="246.27" y="436.80" font-size="8.0">D</text>
<text x="248.28" y="425.00" font-size="8.0">0</text>
<g transform="translate(35.40,0) rotate(-90)">
<text x="-328.40" y="0.00" font-size="13.5">-</text>
<text x="-324.44" y="0.00" font-size="13.5">1</text>
<text x="-316.45" y="0.00" font-size="13.5">0</text>
<text x="-299.14" y="0.00" font-size="13.5">k</text>
<text x="-283.12" y="0.00" font-size="13.5">T</text>
<text x="-263.86" y="0.00" font-size="13.5">λ</text>
<text x="-307.95" y="-7.60" font-size="8.0">3</text>
<text x="-288.49" y="4.90" font-size="8.0">B</text>
<text x="-272.72" y="-7.60" font-size="8.0">0</text>
<text x="-275.13" y="4.90" font-size="8.0">D</text>
<text x="-256.44" y="4.90" font-size="8.0">T</text>
<text x="-251.11" y="4.90" font-size="8.0">,</text>
<text x="-248.66" y="4.90" font-size="8.0">p</text>
</g>
</svg></body></html>
